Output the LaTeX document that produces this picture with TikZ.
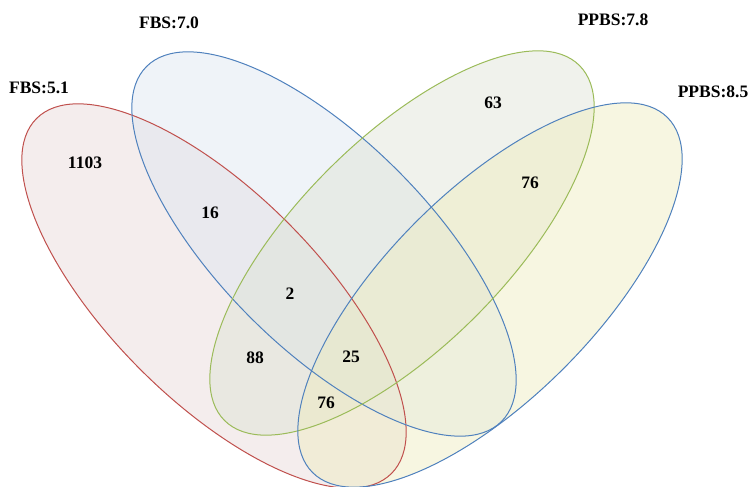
\documentclass[tikz,border=0pt]{standalone}
\usepackage{fontspec}
\setmainfont{Liberation Serif}
\definecolor{redline}{HTML}{C0504D}
\definecolor{blueline}{HTML}{4F81BD}
\definecolor{greenline}{HTML}{9BBB59}
\definecolor{redfill}{RGB}{230,214,214}
\definecolor{bluefill}{RGB}{220,228,240}
\definecolor{greenfill}{RGB}{222,227,212}
\definecolor{yellowfill}{RGB}{238,236,188}
\tikzset{
  lbl/.style={font=\bfseries\fontsize{17.5}{20}\selectfont, inner sep=0pt},
  num/.style={font=\bfseries\fontsize{17.5}{20}\selectfont, inner sep=0pt},
  setfill/.style={fill=#1, fill opacity=0.45, draw=none},
  setline/.style={draw=#1, line width=1pt}
}
\begin{document}
\begin{tikzpicture}[x=1pt,y=-1pt]
\useasboundingbox (0,0) rectangle (752,487);
% fills
\fill[setfill=redfill, rotate around={-45:(214,296)}] (214,296) ellipse [x radius=251pt, y radius=104pt];
\fill[setfill=bluefill, rotate around={-45:(324,244)}] (324,244) ellipse [x radius=251pt, y radius=104pt];
\fill[setfill=greenfill, rotate around={45:(402,243)}] (402,243) ellipse [x radius=251pt, y radius=104pt];
\fill[setfill=yellowfill, rotate around={45:(490,295)}] (490,295) ellipse [x radius=251pt, y radius=104pt];
% outlines
\draw[setline=redline, rotate around={-45:(214,296)}] (214,296) ellipse [x radius=251pt, y radius=104pt];
\draw[setline=blueline, rotate around={-45:(324,244)}] (324,244) ellipse [x radius=251pt, y radius=104pt];
\draw[setline=greenline, rotate around={45:(402,243)}] (402,243) ellipse [x radius=251pt, y radius=104pt];
\draw[setline=blueline, rotate around={45:(490,295)}] (490,295) ellipse [x radius=251pt, y radius=104pt];
% labels
\node[lbl] (l1) at (39,88) {FBS:5.1};
\node[lbl] (l2) at (169,23) {FBS:7.0};
\node[lbl] (l3) at (613,20) {PPBS:7.8};
\node[lbl] (l4) at (713,92) {PPBS:8.5};
% numbers
\node[num] (n1) at (85,163) {1103};
\node[num] (n2) at (210,213) {16};
\node[num] (n3) at (493,103) {63};
\node[num] (n4) at (530,183) {76};
\node[num] (n5) at (290,294) {2};
\node[num] (n6) at (255,358) {88};
\node[num] (n7) at (351,357) {25};
\node[num] (n8) at (326,403) {76};
\end{tikzpicture}
\end{document}
